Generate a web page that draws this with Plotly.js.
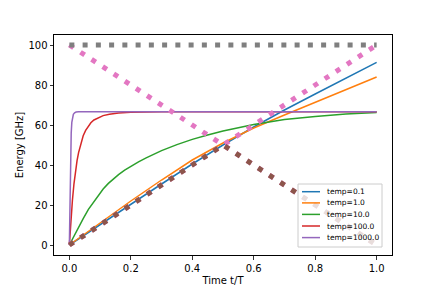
<!DOCTYPE html>
<html>
<head>
<meta charset="utf-8">
<script src="https://cdn.plot.ly/plotly-3.0.1.min.js"></script>
<style>html,body{margin:0;padding:0;background:#fff;}#chart{width:436px;height:291px;}</style>
</head>
<body>
<div id="chart"></div>
<script>
// Solid curves: energy vs time for each temperature
const tBlue = [0, 0.1, 0.2, 0.3, 0.4, 0.5, 0.6, 0.7, 0.8, 0.9, 1.0];
const eBlue = [0, 10.3, 20.5, 30.5, 40.5, 50, 59, 67.5, 75.5, 83.5, 91.3];
const tOrange = [0, 0.1, 0.2, 0.3, 0.4, 0.5, 0.6, 0.7, 0.8, 0.9, 1.0];
const eOrange = [0, 11, 22, 32.5, 42.5, 51, 58.5, 65, 71.3, 77.7, 84];
const tGreen = [0, 0.01, 0.02, 0.03, 0.045, 0.062, 0.08, 0.095, 0.11, 0.127, 0.145, 0.16, 0.18, 0.2, 0.225, 0.25, 0.3, 0.35, 0.4, 0.45, 0.5, 0.6, 0.7, 0.8, 0.9, 1.0];
const eGreen = [0, 3.1, 6.1, 8.9, 13.2, 17.8, 21.8, 25, 28, 30.8, 33.3, 35.2, 37.4, 39.3, 41.6, 43.6, 47.2, 50.2, 52.8, 55, 57, 60.3, 62.7, 64.3, 65.5, 66.3];
const tRed = [0, 0.003, 0.006, 0.01, 0.015, 0.02, 0.025, 0.03, 0.038, 0.045, 0.053, 0.062, 0.07, 0.08, 0.095, 0.11, 0.13, 0.16, 0.2, 0.25, 0.3, 1.0];
const eRed = [0, 7.8, 15, 22.5, 30.6, 37, 42.2, 46.2, 51.2, 54.6, 57.3, 59.6, 61.1, 62.5, 63.8, 64.7, 65.4, 66, 66.4, 66.6, 66.65, 66.67];
const tPurple = [0, 0.002, 0.004, 0.006, 0.008, 0.01, 0.013, 0.017, 0.022, 0.03, 1.0];
const ePurple = [0, 28, 46, 56, 61.3, 63.6, 65.3, 66.1, 66.5, 66.63, 66.67];
const seriesNames = ["temp=0.1", "temp=1.0", "temp=10.0", "temp=100.0", "temp=1000.0"];

// Dotted reference lines
const tPinkDown = [0, 1]; const ePinkDown = [100, 0];
const tPinkUp = [0, 1];   const ePinkUp = [0, 100];
const tBrown = [0, 0.5, 1]; const eBrown = [0, 50, 0];
const tGrey = [0, 1];     const eGrey = [100, 100];

const xTicks = [0, 0.2, 0.4, 0.6, 0.8, 1.0];
const yTicks = [0, 20, 40, 60, 80, 100];

const colors = ["#1f77b4", "#ff7f0e", "#2ca02c", "#d62728", "#9467bd"];
const solidT = [tBlue, tOrange, tGreen, tRed, tPurple];
const solidE = [eBlue, eOrange, eGreen, eRed, ePurple];

const traces = [];
for (let i = 0; i < 5; i++) {
  traces.push({x: solidT[i], y: solidE[i], mode: 'lines', name: seriesNames[i],
    line: {color: colors[i], width: 1.5}, showlegend: false});
}
const dotted = (x, y, c) => ({x: x, y: y, mode: 'lines', showlegend: false, hoverinfo: 'skip',
  line: {color: c, width: 5, dash: '5px,8.25px'}});
traces.push(dotted(tPinkDown, ePinkDown, '#e377c2'));
traces.push(dotted(tPinkUp, ePinkUp, '#e377c2'));
traces.push(dotted(tBrown, eBrown, '#8c564b'));
traces.push(dotted(tGrey, eGrey, '#7f7f7f'));

// Plot area in pixels (for legend placement in paper coordinates)
const W = 436, H = 291, mL = 54, mR = 44, mT = 35, mB = 36;
const pw = W - mL - mR, ph = H - mT - mB;
const px = v => (v - mL) / pw;
const py = v => (H - mB - v) / ph;

const shapes = [{type: 'rect', xref: 'paper', yref: 'paper', layer: 'above',
  x0: px(298), x1: px(382), y0: py(247), y1: py(184),
  fillcolor: 'rgba(255,255,255,0.8)', line: {color: '#cccccc', width: 1}}];
const annotations = [];
const rowY = [191.7, 202.9, 214.4, 226.0, 237.6];
for (let i = 0; i < 5; i++) {
  shapes.push({type: 'line', xref: 'paper', yref: 'paper', layer: 'above',
    x0: px(302), x1: px(320), y0: py(rowY[i]), y1: py(rowY[i]),
    line: {color: colors[i], width: 1.5}});
  annotations.push({xref: 'paper', yref: 'paper', x: px(325), y: py(rowY[i]),
    xanchor: 'left', yanchor: 'middle', showarrow: false, text: seriesNames[i],
    font: {family: 'DejaVu Sans', size: 7.5, color: '#000'}});
}

const font = {family: 'DejaVu Sans', size: 10, color: '#000'};
const layout = {
  width: W, height: H,
  margin: {l: mL, r: mR, t: mT, b: mB, pad: 0},
  paper_bgcolor: '#fff', plot_bgcolor: '#fff',
  font: font,
  showlegend: false,
  shapes: shapes, annotations: annotations,
  xaxis: {range: [-0.05, 1.05], tickvals: xTicks, ticktext: xTicks.map(v => v.toFixed(1)),
    showgrid: false, zeroline: false, showline: true, mirror: true, linecolor: '#000', linewidth: 1,
    ticks: 'outside', ticklen: 3.5, tickwidth: 0.8, tickcolor: '#000',
    title: {text: 'Time t/T', font: font, standoff: 4}},
  yaxis: {range: [-5, 105], tickvals: yTicks, ticktext: yTicks.map(String),
    showgrid: false, zeroline: false, showline: true, mirror: true, linecolor: '#000', linewidth: 1,
    ticks: 'outside', ticklen: 3.5, tickwidth: 0.8, tickcolor: '#000',
    title: {text: 'Energy [GHz]', font: font, standoff: 2}}
};
Plotly.newPlot('chart', traces, layout, {displayModeBar: false, staticPlot: true});
</script>
</body>
</html>
